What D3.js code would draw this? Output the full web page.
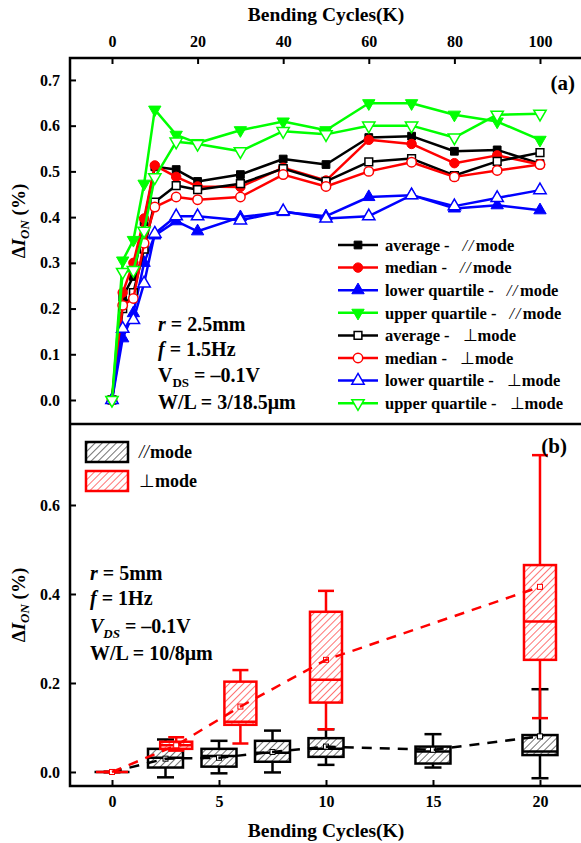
<!DOCTYPE html>
<html>
<head>
<meta charset="utf-8">
<script src="https://cdn.jsdelivr.net/npm/d3@7"></script>
<style>
  body { margin: 0; background: #fff; }
  svg text { font-family: "Liberation Serif", "Times New Roman", serif; font-weight: bold; fill: #000; }
</style>
</head>
<body>
<svg id="chart" width="581" height="843"></svg>
<script>
// ---------- Panel (a): ΔI_ON vs bending cycles, r = 2.5 mm ----------
const cyclesA = [0, 2.5, 5, 7.5, 10, 15, 20, 30, 40, 50, 60, 70, 80, 90, 100];
const avgPar  = [0, 0.225, 0.27, 0.39, 0.51, 0.504, 0.478, 0.493, 0.527, 0.515, 0.574, 0.577, 0.544, 0.547, 0.517];
const medPar  = [0, 0.235, 0.30, 0.397, 0.513, 0.488, 0.467, 0.466, 0.508, 0.48, 0.569, 0.56, 0.518, 0.535, 0.515];
const lqPar   = [0, 0.135, 0.19, 0.30, 0.36, 0.391, 0.369, 0.40, 0.411, 0.402, 0.444, 0.448, 0.419, 0.426, 0.415];
const uqPar   = [0, 0.305, 0.35, 0.473, 0.635, 0.58, 0.562, 0.59, 0.609, 0.59, 0.649, 0.649, 0.624, 0.609, 0.569];
const avgPerp = [0, 0.20, 0.235, 0.33, 0.433, 0.469, 0.46, 0.473, 0.506, 0.478, 0.521, 0.528, 0.491, 0.522, 0.541];
const medPerp = [0, 0.207, 0.222, 0.343, 0.422, 0.444, 0.438, 0.444, 0.493, 0.467, 0.50, 0.52, 0.488, 0.502, 0.515];
const lqPerp  = [0, 0.156, 0.175, 0.255, 0.364, 0.402, 0.402, 0.393, 0.413, 0.397, 0.402, 0.448, 0.424, 0.442, 0.459];
const uqPerp  = [0, 0.28, 0.284, 0.37, 0.487, 0.565, 0.56, 0.544, 0.588, 0.581, 0.60, 0.60, 0.574, 0.624, 0.626];
const ticksXA = [0, 20, 40, 60, 80, 100];
const ticksYA = [0, 0.1, 0.2, 0.3, 0.4, 0.5, 0.6, 0.7];

// ---------- Panel (b): box statistics, r = 5 mm ----------
const parCycles = [0, 2.5, 5, 7.5, 10, 15, 20];
const parMin  = [0, -0.012, -0.003, -0.001, 0.016, 0.010, -0.014];
const parQ1   = [0, 0.010, 0.012, 0.023, 0.034, 0.019, 0.038];
const parMed  = [0, 0.032, 0.036, 0.043, 0.052, 0.046, 0.046];
const parQ3   = [0, 0.052, 0.052, 0.070, 0.076, 0.057, 0.083];
const parMax  = [0, 0.073, 0.070, 0.093, 0.096, 0.085, 0.186];
const parMean = [0, 0.030, 0.032, 0.045, 0.057, 0.050, 0.080];

const perpCycles = [0, 3, 6, 10, 20];
const perpMin  = [0, 0.048, 0.064, 0.096, 0.121];
const perpQ1   = [0, 0.052, 0.106, 0.156, 0.252];
const perpMed  = [0, 0.060, 0.113, 0.207, 0.338];
const perpQ3   = [0, 0.068, 0.203, 0.360, 0.465];
const perpMax  = [0, 0.078, 0.229, 0.407, 0.712];
const perpMean = [0, 0.060, 0.147, 0.252, 0.416];
const ticksXB = [0, 5, 10, 15, 20];
const ticksYB = [0, 0.2, 0.4, 0.6];

const PAR = "//", PERP = "\u22A5";

// ---------- layout ----------
const svg = d3.select("#chart");
const LEFT = 70, RIGHT = 581, TOP = 58, MID = 424, BOTTOM = 786;

const xA = d3.scaleLinear().domain([-9.813, 109.35]).range([LEFT, 580]);
const yA = d3.scaleLinear().domain([-0.0525, 0.748]).range([MID, TOP]);
const xB = d3.scaleLinear().domain([-1.963, 21.87]).range([LEFT, 580]);
const yB = d3.scaleLinear().domain([-0.0315, 0.782]).range([BOTTOM, MID]);

// hatch patterns for the boxes
const defs = svg.append("defs");
[["hatch-black", "#000"], ["hatch-red", "#ff0000"]].forEach(([id, c]) => {
  const p = defs.append("pattern").attr("id", id)
    .attr("patternUnits", "userSpaceOnUse")
    .attr("width", 5).attr("height", 5)
    .attr("patternTransform", "rotate(45)");
  p.append("rect").attr("width", 5).attr("height", 5).attr("fill", "#fff");
  p.append("line").attr("x1", 0).attr("y1", 0).attr("x2", 0).attr("y2", 5)
    .attr("stroke", c).attr("stroke-width", 1.1);
});

function styleAxis(g, fs) {
  g.select(".domain").remove();
  g.selectAll(".tick line").attr("stroke", "#000").attr("stroke-width", 2);
  g.selectAll(".tick text").style("font-size", fs + "px")
    .style("font-family", '"Liberation Serif", serif').style("font-weight", "bold").attr("fill", "#000");
}

// axes
const gTop = svg.append("g").attr("transform", `translate(0,${TOP})`)
  .call(d3.axisTop(xA).tickValues(ticksXA).tickFormat(d3.format("d"))
    .tickSizeInner(-6).tickSizeOuter(0).tickPadding(11));
styleAxis(gTop, 16);

const gLA = svg.append("g").attr("transform", `translate(${LEFT},0)`)
  .call(d3.axisLeft(yA).tickValues(ticksYA).tickFormat(d3.format(".1f"))
    .tickSizeInner(-6).tickSizeOuter(0).tickPadding(10));
styleAxis(gLA, 16);

const gLB = svg.append("g").attr("transform", `translate(${LEFT},0)`)
  .call(d3.axisLeft(yB).tickValues(ticksYB).tickFormat(d3.format(".1f"))
    .tickSizeInner(-6).tickSizeOuter(0).tickPadding(10));
styleAxis(gLB, 16);

const gB = svg.append("g").attr("transform", `translate(0,${BOTTOM})`)
  .call(d3.axisBottom(xB).tickValues(ticksXB).tickFormat(d3.format("d"))
    .tickSizeInner(-6).tickSizeOuter(0).tickPadding(10));
styleAxis(gB, 16);

// frame
svg.append("path")
  .attr("d", `M${LEFT},${TOP}H${RIGHT}M${LEFT},${MID}H${RIGHT}M${LEFT},${BOTTOM}H${RIGHT}M${LEFT},${TOP - 1.25}V${BOTTOM + 1.25}`)
  .attr("stroke", "#000").attr("stroke-width", 2.5).attr("fill", "none");

// axis titles
svg.append("text").attr("x", 326).attr("y", 21).attr("text-anchor", "middle")
  .style("font-size", "19.5px").text("Bending Cycles(K)");
svg.append("text").attr("x", 326).attr("y", 837).attr("text-anchor", "middle")
  .style("font-size", "19.5px").text("Bending Cycles(K)");

function yTitle(cy) {
  const t = svg.append("text").attr("transform", `translate(25,${cy}) rotate(-90)`)
    .attr("text-anchor", "middle").style("font-size", "19px");
  t.append("tspan").text("\u0394");
  t.append("tspan").style("font-style", "italic").text("I");
  t.append("tspan").style("font-style", "italic").style("font-size", "13px").attr("dy", 4).text("ON");
  t.append("tspan").attr("dy", -4).text(" (%)");
}
yTitle(221);
yTitle(605);

// mode label: slanted double slash or perpendicular sign, then "mode"
function modeLabel(t, m, gap, slashSpacing) {
  if (m === PAR) {
    t.append("tspan").attr("dx", gap).style("font-weight", "normal").style("font-style", "italic")
      .attr("letter-spacing", slashSpacing).text(PAR);
    t.append("tspan").attr("dx", 1).text("mode");
  } else {
    t.append("tspan").attr("dx", gap).style("font-weight", "normal").text(PERP);
    t.append("tspan").text("mode");
  }
}

// ---------- panel (a) series ----------
const seriesA = [
  { label: "average -",        mode: PAR,  values: avgPar,  color: "#000000", shape: d3.symbolSquare,   filled: true,  rot: 0 },
  { label: "median -",         mode: PAR,  values: medPar,  color: "#ff0000", shape: d3.symbolCircle,   filled: true,  rot: 0 },
  { label: "lower quartile -", mode: PAR,  values: lqPar,   color: "#0000ff", shape: d3.symbolTriangle, filled: true,  rot: 0 },
  { label: "upper quartile -", mode: PAR,  values: uqPar,   color: "#00ff00", shape: d3.symbolTriangle, filled: true,  rot: 180 },
  { label: "average -",        mode: PERP, values: avgPerp, color: "#000000", shape: d3.symbolSquare,   filled: false, rot: 0 },
  { label: "median -",         mode: PERP, values: medPerp, color: "#ff0000", shape: d3.symbolCircle,   filled: false, rot: 0 },
  { label: "lower quartile -", mode: PERP, values: lqPerp,  color: "#0000ff", shape: d3.symbolTriangle, filled: false, rot: 0 },
  { label: "upper quartile -", mode: PERP, values: uqPerp,  color: "#00ff00", shape: d3.symbolTriangle, filled: false, rot: 180 }
];
const symSize = { square: 60, circle: 70, triangle: 66 };
function symbolPath(s) {
  const size = s.shape === d3.symbolSquare ? symSize.square : s.shape === d3.symbolCircle ? symSize.circle : symSize.triangle;
  return d3.symbol().type(s.shape).size(size)();
}
function drawMarker(g, s, x, y) {
  g.append("path").attr("d", symbolPath(s))
    .attr("transform", `translate(${x},${y}) rotate(${s.rot})`)
    .attr("fill", s.filled ? s.color : "#fff")
    .attr("stroke", s.color).attr("stroke-width", s.filled ? 1 : 1.5);
}

const lineA = d3.line().x((d, i) => xA(cyclesA[i])).y(d => yA(d));
const gA = svg.append("g");
seriesA.forEach(s => {
  const g = gA.append("g");
  g.append("path").attr("d", lineA(s.values)).attr("fill", "none")
    .attr("stroke", s.color).attr("stroke-width", 2.5).attr("stroke-linejoin", "round");
  s.values.forEach((v, i) => drawMarker(g, s, xA(cyclesA[i]), yA(v)));
});

// legend (a)
seriesA.forEach((s, i) => {
  const y = 245 + i * 22.6;
  const g = svg.append("g");
  g.append("line").attr("x1", 338).attr("x2", 378).attr("y1", y).attr("y2", y)
    .attr("stroke", s.color).attr("stroke-width", 2.5);
  drawMarker(g, s, 358, y);
  const t = g.append("text").attr("x", 385).attr("y", y).attr("dy", "0.35em").style("font-size", "16.5px");
  t.append("tspan").text(s.label);
  modeLabel(t, s.mode, 13, "1.5");
});

svg.append("text").attr("x", 575).attr("y", 90).attr("text-anchor", "end").style("font-size", "21px").text("(a)");

// condition notes
function notes(x, ys, rText, fText, vdsItalic, wl) {
  const fs = "20px";
  let t = svg.append("text").attr("x", x).attr("y", ys[0]).style("font-size", fs);
  t.append("tspan").style("font-style", "italic").text("r");
  t.append("tspan").text(" = " + rText);
  t = svg.append("text").attr("x", x).attr("y", ys[1]).style("font-size", fs);
  t.append("tspan").style("font-style", "italic").text("f");
  t.append("tspan").text(" = " + fText);
  t = svg.append("text").attr("x", x).attr("y", ys[2]).style("font-size", fs);
  t.append("tspan").style("font-style", vdsItalic ? "italic" : "normal").text("V");
  t.append("tspan").style("font-style", vdsItalic ? "italic" : "normal").style("font-size", "13px").attr("dy", 5).text("DS");
  t.append("tspan").attr("dy", -5).text(" = \u20130.1V");
  svg.append("text").attr("x", x).attr("y", ys[3]).style("font-size", fs).text(wl);
}
notes(158, [331, 356, 382, 409], "2.5mm", "1.5Hz", false, "W/L = 3/18.5\u03BCm");
notes(90, [580, 605, 633, 660], "5mm", "1Hz", true, "W/L = 10/8\u03BCm");

// ---------- panel (b) boxes ----------
function drawBoxes(cycles, mins, q1s, meds, q3s, maxs, means, color, hatch, halfW, capHalf) {
  const g = svg.append("g");
  cycles.forEach((c, i) => {
    const cx = xB(c);
    const seg = (x1, y1, x2, y2) => g.append("line").attr("x1", x1).attr("y1", y1).attr("x2", x2).attr("y2", y2)
      .attr("stroke", color).attr("stroke-width", 2.5);
    seg(cx, yB(maxs[i]), cx, yB(q3s[i]));
    seg(cx, yB(q1s[i]), cx, yB(mins[i]));
    seg(cx - capHalf, yB(maxs[i]), cx + capHalf, yB(maxs[i]));
    seg(cx - capHalf, yB(mins[i]), cx + capHalf, yB(mins[i]));
    g.append("rect").attr("x", cx - halfW).attr("width", 2 * halfW)
      .attr("y", yB(q3s[i])).attr("height", yB(q1s[i]) - yB(q3s[i]))
      .attr("fill", `url(#${hatch})`).attr("stroke", color).attr("stroke-width", 2.5);
    seg(cx - halfW, yB(meds[i]), cx + halfW, yB(meds[i]));
    g.append("rect").attr("x", cx - 2.5).attr("y", yB(means[i]) - 2.5).attr("width", 5).attr("height", 5)
      .attr("fill", "#fff").attr("stroke", color).attr("stroke-width", 1);
  });
  const meanLine = d3.line().x((d, i) => xB(cycles[i])).y(d => yB(d));
  g.append("path").attr("d", meanLine(means)).attr("fill", "none")
    .attr("stroke", color).attr("stroke-width", 2.5).attr("stroke-dasharray", "10,8");
}
drawBoxes(parCycles, parMin, parQ1, parMed, parQ3, parMax, parMean, "#000", "hatch-black", 17.5, 8.5);
drawBoxes(perpCycles, perpMin, perpQ1, perpMed, perpQ3, perpMax, perpMean, "#ff0000", "hatch-red", 16, 8);

// legend (b)
[["hatch-black", "#000", PAR, 442], ["hatch-red", "#ff0000", PERP, 471]].forEach(([h, c, m, y]) => {
  svg.append("rect").attr("x", 86).attr("y", y).attr("width", 42).attr("height", 20)
    .attr("fill", `url(#${h})`).attr("stroke", c).attr("stroke-width", 2.5);
  const t = svg.append("text").attr("x", 139).attr("y", y + 16).style("font-size", "18px");
  modeLabel(t, m, 0, "0");
});

svg.append("text").attr("x", 567).attr("y", 453).attr("text-anchor", "end").style("font-size", "21px").text("(b)");
</script>
</body>
</html>
